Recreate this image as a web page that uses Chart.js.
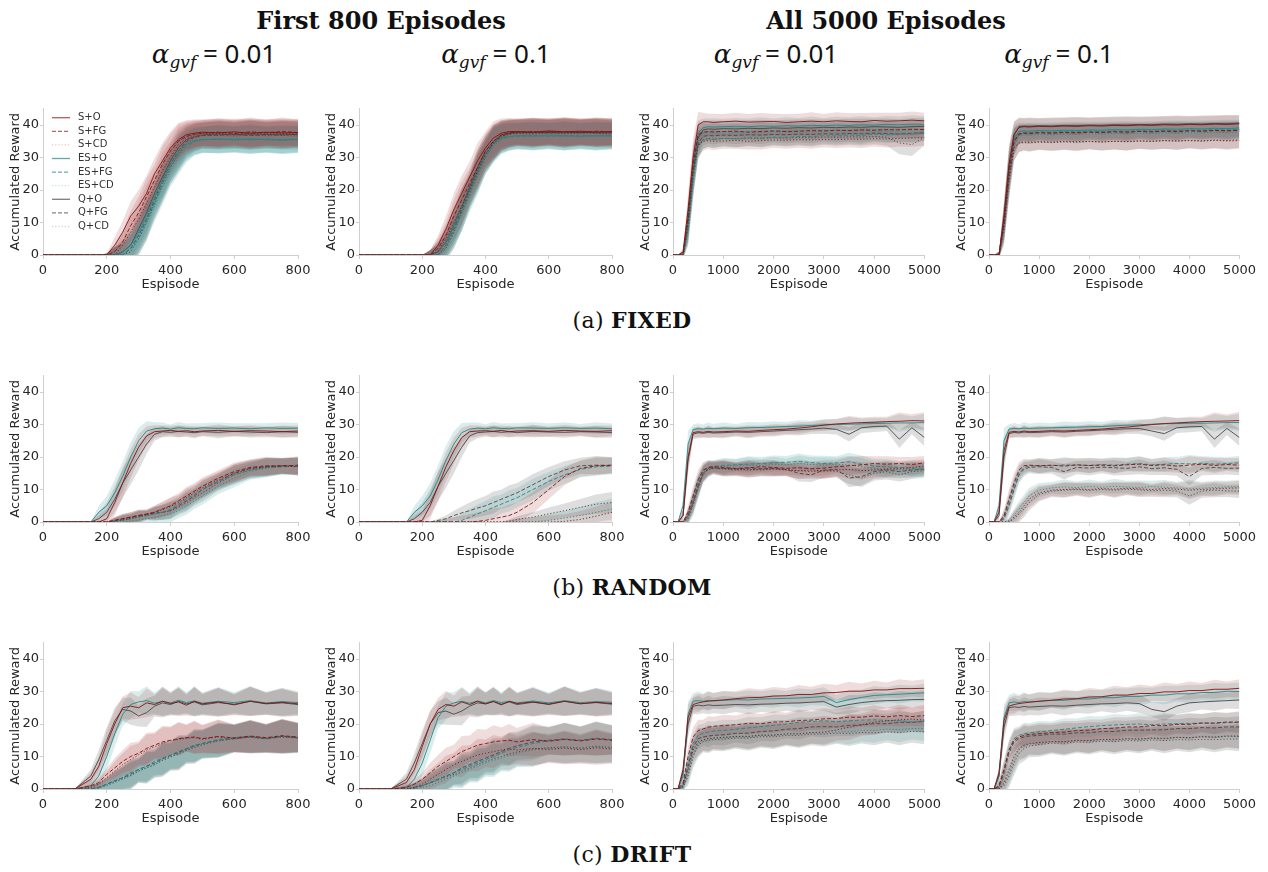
<!DOCTYPE html>
<html><head><meta charset="utf-8">
<script src="https://cdn.jsdelivr.net/npm/chart.js@4.4.0/dist/chart.umd.min.js"></script>
<style>
body{margin:0;width:1268px;height:872px;background:#fff;position:relative;overflow:hidden;font-family:"DejaVu Sans";}
.t{position:absolute;white-space:nowrap;transform:translateX(-50%);color:#111;line-height:1;}
.h{font-family:"DejaVu Serif";font-weight:bold;font-size:24px;}
.a{font-family:"Noto Sans";font-size:26px;}
.a i{font-family:"DejaVu Serif";font-style:italic;}
.a sub{font-family:"DejaVu Serif";font-style:italic;font-size:17px;vertical-align:-5px;line-height:0;}
.c{font-family:"DejaVu Serif";font-size:22px;letter-spacing:0.3px;}
.c b{font-weight:bold;}
canvas{position:absolute;}
</style></head><body>
<div class="t h" style="left:381px;top:9px">First 800 Episodes</div>
<div class="t h" style="left:886px;top:9px">All 5000 Episodes</div>
<div class="t a" style="left:214px;top:40px"><i>α</i><sub>gvf</sub> = 0.01</div>
<div class="t a" style="left:496px;top:40px"><i>α</i><sub>gvf</sub> = 0.1</div>
<div class="t a" style="left:776px;top:40px"><i>α</i><sub>gvf</sub> = 0.01</div>
<div class="t a" style="left:1059px;top:40px"><i>α</i><sub>gvf</sub> = 0.1</div>
<div class="t c" style="left:632px;top:309px">(a) <b>FIXED</b></div>
<div class="t c" style="left:632px;top:576px">(b) <b>RANDOM</b></div>
<div class="t c" style="left:632px;top:843px">(c) <b>DRIFT</b></div>
<script>
const SERIES = ['S+O','S+FG','S+CD','ES+O','ES+FG','ES+CD','Q+O','Q+FG','Q+CD'];
const X800  = [0,100,150,175,200,225,250,275,300,325,350,375,400,425,450,475,500,550,600,650,700,750,800];
const X5000 = [0,100,200,300,400,500,600,700,800,1000,1250,1500,1750,2000,2250,2500,2750,3000,3250,3500,3750,4000,4250,4500,4750,5000];
const Y_MAX = 45;

// ---- FIXED, first 800, alpha 0.01
const fixA8_SO  = [0,0,0,0,0, 3,7,12,15,19,25,29,33,35.5,37,37.5,37.8, 37.6,37.9,37.5,37.8,37.6,37.7];
const fixA8_SFG = [0,0,0,0,0, 1,4,9,13,18,23,28,32,35,36.5,37.2,37.5, 37.8,37.4,37.9,37.6,38,37.7];
const fixA8_SCD = [0,0,0,0,0, 0,3,7,11,16,21,26,30,34,36,37,37.5, 37.3,37.6,37.2,37.5,37.3,37.4];
const fixA8_ESO = [0,0,0,0,0, 0,1,3,7,12,18,23,28,32,34,35.2,35.5, 35.7,35.4,35.6,35.5,35.3,35.6];
const fixA8_ESFG= [0,0,0,0,0, 0,0,2,6,11,16,22,27,31,33.5,35,35.6, 35.5,35.8,35.4,35.7,35.5,35.5];
const fixA8_ESCD= [0,0,0,0,0, 0,0,2,5,10,15,21,26,30,33,34.8,35.3, 35.8,35.6,35.9,35.5,35.7,35.8];
const fixA8_QO  = [0,0,0,0,0, 0,1,3,8,13,19,24,29,33,35.5,36.5,37, 37.2,37,37.3,37.1,37.2,37];
const fixA8_QFG = [0,0,0,0,0, 0,0,2,6,11,17,23,28,32,35,36.3,36.8, 36.9,37.1,36.8,37,36.9,37.2];
const fixA8_QCD = [0,0,0,0,0, 0,0,1,5,10,16,22,27,31,34.5,36,36.7, 36.8,36.6,36.9,36.7,36.8,36.6];
const fixA8_sd  = [0,0,0,0,0.5, 2.5,3.5,4.5,5,5.5,4.8,5.5,5,5.2,4.5,4.2,4, 4.3,4,4.4,4,4.3,4.1];

// ---- FIXED, first 800, alpha 0.1
const fixB8_SO  = [0,0,0,0,0, 0,3,8,14,19,24,29,33,36,37.5,38,38, 37.8,38.2,37.9,38.1,37.8,38];
const fixB8_SFG = [0,0,0,0,0, 0,2,6,12,17,22,27,32,35,37,37.6,37.8, 38,37.7,38,37.8,38.1,37.9];
const fixB8_SCD = [0,0,0,0,0, 0,1,5,10,15,20,26,31,34.5,36.5,37.3,37.6, 37.5,37.8,37.5,37.7,37.6,37.4];
const fixB8_ESO = [0,0,0,0,0, 0,1,4,9,15,20,26,31,34.5,36,36.5,36.8, 36.6,36.9,36.7,36.5,36.8,36.6];
const fixB8_ESFG= [0,0,0,0,0, 0,0,3,8,13,19,25,30,34,35.8,36.4,36.5, 36.8,36.5,36.7,36.9,36.6,36.7];
const fixB8_ESCD= [0,0,0,0,0, 0,0,3,7,13,18,24,30,33.5,35.5,36.3,36.6, 36.4,36.7,36.5,36.6,36.4,36.8];
const fixB8_QO  = [0,0,0,0,0, 0,1,4,9,15,21,27,32,35,37,37.6,37.9, 37.7,38,37.8,37.6,37.9,37.8];
const fixB8_QFG = [0,0,0,0,0, 0,0,3,8,14,20,26,31,34.5,36.6,37.3,37.6, 37.8,37.5,37.7,37.9,37.6,37.7];
const fixB8_QCD = [0,0,0,0,0, 0,0,2,7,13,19,25,30,34,36.3,37.1,37.4, 37.2,37.6,37.3,37.5,37.4,37.2];
const fixB8_sd  = [0,0,0,0,0, 1.5,3,4,5,5.5,4.8,5.5,5,5.2,4.5,4.2,4, 4.3,4,4.4,4,4.3,4.1];

// ---- FIXED, all 5000, alpha 0.01
const fixA50_SO  = [0,0,1,14,30,40,41,41,40.8, 41,41.2,40.9,41,41.1,40.8,41,41.2,41,41.3,41.1,41,41.4,41.2,41.3,41.5,41.3];
const fixA50_SFG = [0,0,0,12,28,37,37.8,38,37.9, 38,38.1,37.8,38,38.2,38,38.1,38.3,38.2,38.4,38.3,38.5,38.4,38.6,38.5,38.7,38.6];
const fixA50_SCD = [0,0,0,10,26,34,35,35.2,35, 35.1,35.3,35,35.2,35.4,35.3,35.5,35.4,35.6,35.5,35.7,35.6,35.8,35.7,35.9,36,36.1];
const fixA50_ESO = [0,0,0,11,27,37.5,39.2,39.5,39.4, 39.5,39.6,39.5,39.7,39.6,39.8,39.7,39.9,39.8,40,39.9,40.1,40,40.2,40.1,40.3,40.2];
const fixA50_ESFG= [0,0,0,9,24,34,35.5,35.8,35.6, 35.9,35.8,36.1,36,36.3,36.2,36.5,36.4,36.7,36.6,36.9,36.8,37.2,37,37.3,37.2,37.5];
const fixA50_ESCD= [0,0,0,8,23,35,37.5,37.8,37.7, 37.9,37.8,38,37.9,38.1,38,38.2,38.1,38.3,38.2,38.4,38.3,38.5,38.4,38.6,38.5,38.7];
const fixA50_QO  = [0,0,0,10,26,36,38.5,38.8,38.7, 38.9,38.8,39,38.9,39.1,39,39.2,39.1,39.3,39.2,39.4,39.3,39.5,39.4,39.3,39.5,39.6];
const fixA50_QFG = [0,0,0,9,25,34.5,36.5,36.8,36.7, 36.9,36.8,37,36.9,37.1,37,37.2,37.1,37.3,37.2,37.4,37.3,37.5,37.4,37.2,37.5,37.6];
const fixA50_QCD = [0,0,0,8,24,33.5,35.5,35.8,35.7, 35.9,35.8,36,35.9,36.1,36,36.2,36.1,36.3,36.2,36.4,36.3,36.5,36.2,34.5,34,36.2];
const fixA50_sd  = [0,0,1,5,6,4,2.8,2.5,2.7, 2.4,2.6,2.5,2.7,2.4,2.6,2.5,2.7,2.4,2.6,2.5,2.7,2.4,2.6,2.5,2.7,2.5];
const fixA50_sdQCD=[0,0,1,5,6,4,2.8,2.5,2.7, 2.4,2.6,2.5,2.7,2.4,2.6,2.5,2.7,2.4,2.6,2.5,2.7,2.4,2.6,3.5,3.5,2.5];

// ---- FIXED, all 5000, alpha 0.1
const fixB50_SO  = [0,0,0,12,28,37,39.3,39.5,39.4, 39.6,39.5,39.7,39.6,39.8,39.7,39.9,39.8,40,39.9,40.1,40,40.2,40.1,40.3,40.2,40.4];
const fixB50_SFG = [0,0,0,10,26,35,37.2,37.5,37.4, 37.6,37.5,37.7,37.6,37.8,37.7,37.9,37.8,38,37.9,38.1,38,38.2,38.1,38.3,38.2,38.4];
const fixB50_SCD = [0,0,0,9,24,33,34.6,34.8,34.7, 34.9,34.8,35,34.9,35,34.8,35,34.9,35.1,35,35.2,35.1,35.2,35,35.3,35.1,35.2];
const fixB50_ESO = [0,0,0,11,27,36,38,38.2,38.1, 38.3,38.2,38.4,38.3,38.5,38.4,38.6,38.5,38.7,38.6,38.8,38.7,38.9,38.8,39,38.9,39.1];
const fixB50_ESFG= [0,0,0,10,25,35,37.6,37.8,37.7, 37.9,37.8,38,37.9,38.1,38,38.2,38.1,38.3,38.2,38.4,38.3,38.5,38.4,38.6,38.5,38.7];
const fixB50_ESCD= [0,0,0,9,24,34,36.8,37,36.9, 37.1,37,37.2,37.1,37.3,37.2,37.4,37.3,37.5,37.4,37.6,37.5,37.7,37.6,37.8,37.7,37.9];
const fixB50_QO  = [0,0,0,11,27,37,39.5,39.7,39.6, 39.8,39.7,39.9,39.8,40,39.9,40.1,40,40.2,40.1,40.3,40.2,40.4,40.3,40.5,40.4,40.6];
const fixB50_QFG = [0,0,0,10,25,35,37.3,37.6,37.5, 37.7,37.6,37.8,37.7,37.9,37.8,38,37.9,38.1,38,38.2,38.1,38.3,38.2,38.4,38.3,38.5];
const fixB50_QCD = [0,0,0,8,23,33,34.4,34.6,34.5, 34.7,34.6,34.8,34.7,34.9,34.8,35,34.9,35.1,35,35.2,35.1,35.3,35.2,35.4,35.3,35.5];
const fixB50_sd  = [0,0,1,5,6,4,2.8,2.5,2.7, 2.4,2.6,2.5,2.7,2.4,2.6,2.5,2.7,2.4,2.6,2.5,2.7,2.4,2.6,2.5,2.7,2.5];

// ---- RANDOM, first 800, alpha 0.01
const rndA8_SO  = [0,0,0,0,1, 6,12,18,23,26.5,27.8,28,28.2,27.9,28.1,27.8,28, 28.2,27.9,28.1,28,27.8,28];
const rndA8_ESO = [0,0,0,3,5, 9,14,20,25,28,28.7,28.9,28.6,29,28.8,28.7,29, 28.8,28.9,28.7,29,28.8,28.9];
const rndA8_QO  = [0,0,0,1,3, 7,12,16,20,24,27,27.8,27.6,27.9,27.7,27.5,27.8, 27.6,27.9,27.7,27.5,27.8,27.6];
const rndA8_SFG = [0,0,0,0,0, 0.5,1,1.5,2,2.5,3,4,5,6.5,8,9.5,11, 13.5,15.5,16.8,17.3,17.2,17.5];
const rndA8_SCD = [0,0,0,0,0, 0.3,0.8,1.2,1.8,2.3,3,3.8,4.8,6,7.5,9,10.5, 13,15,16.5,17,17.3,17];
const rndA8_ESFG= [0,0,0,0,0, 0.2,0.5,1,1.5,2,2.5,3,4,5.5,7,8.5,10, 12.5,14.5,16,16.8,17,17.2];
const rndA8_ESCD= [0,0,0,0,0, 0,0,0.3,0.6,1,1.5,2,2.5,3.5,5,6.5,8, 11,13.5,15.5,16.5,17,17.3];
const rndA8_QFG = [0,0,0,0,0, 0.5,1,1.5,2,2.3,2.7,3,3.5,5,6.5,8,10, 12.5,15,16.5,17,17.4,17.2];
const rndA8_QCD = [0,0,0,0,0, 0.2,0.6,1,1.5,2,2.5,3,3.5,4.5,6,7.5,9, 12,14.5,16,16.8,17.2,17];
const rndA8_sdFast = [0,0,0,2,3, 4,4.5,4.5,4,3,2,1.7,1.4,1.8,1.5,1.7,1.4, 1.8,1.5,1.7,1.4,1.8,1.6];
const rndA8_sdSlow = [0,0,0,0,0, 1,1.5,1.5,1.8,1.4,2,2.3,2.6,2.3,2.8,2.4,2.7, 2.4,2.8,2.5,2.8,2.4,2.7];

// ---- RANDOM, first 800, alpha 0.1
const rndB8_SO  = [0,0,0,0,0.5, 5,11,17,22,26,27.8,28,28.1,27.9,28.2,27.8,28, 28.1,27.9,28.2,28,27.9,28.1];
const rndB8_ESO = [0,0,0,3,5, 8,13,19,24,27.5,28.6,28.9,28.7,29,28.8,28.7,29, 28.9,28.8,29,28.8,28.9,28.7];
const rndB8_QO  = [0,0,0,1,3, 6,11,15,19,23,26.5,27.5,27.7,27.9,27.6,27.8,27.5, 27.9,27.7,27.6,27.8,27.7,27.5];
const rndB8_SFG = [0,0,0,0,0, 0,0,0,0,0,0,0.2,0.5,1,1.5,2,3, 6,10,14,16.5,17.3,17.5];
const rndB8_ESFG= [0,0,0,0,0, 0,0,0,0,0.5,1.5,2.5,3.5,4.5,5.5,6.5,7.5, 10,12.5,14.5,16.2,17,17.2];
const rndB8_QFG = [0,0,0,0,0, 0,0.5,1,2,2.8,3.5,4.3,5,6,7,8,9, 11.5,14,16,17.3,17.5,17.4];
const rndB8_SCD = [0,0,0,0,0, 0,0,0,0,0,0,0,0,0,0,0,0, 0,0,0.2,0.8,1.8,3];
const rndB8_ESCD= [0,0,0,0,0, 0,0,0,0,0,0,0,0,0,0,0,0, 0,0.5,1.2,2,3,4];
const rndB8_QCD = [0,0,0,0,0, 0,0,0,0,0,0,0,0,0,0,0.3,0.8, 1.5,2.5,3.5,4.5,5.5,6];
const rndB8_sdFast = [0,0,0,2,3, 4,4.5,4.5,4,3,2,1.7,1.4,1.8,1.5,1.7,1.4, 1.8,1.5,1.7,1.4,1.8,1.6];
const rndB8_sdMid  = [0,0,0,0,0, 0,0.5,1,1.5,2,2.5,2.8,3,3.4,2.9,3.3,3, 3.3,2.9,2.7,2.5,2.8,2.5];
const rndB8_sdSlow = [0,0,0,0,0, 0,0,0,0,0,0,0,0,0,0,0.5,1, 1.5,2,2.2,2.6,3,3.2];

// ---- RANDOM, all 5000, alpha 0.01
const rndA50_SO  = [0,0,2,20,27.5,27.8,27.6,27.9,27.7, 27.8,28,27.9,28.2,28.4,28.6,28.9,29.3,29.8,30.2,30.4,30.6,30.7,30.9,31,31.2,31.1];
const rndA50_ESO = [0,0,5,24,28.5,28.7,28.6,28.8,28.7, 28.9,28.8,29,29.1,29.2,29.4,29.5,29.7,29.9,30,30.1,30.2,30.3,30.4,30.5,30.5,30.6];
const rndA50_QO  = [0,0,2,19,27,27.5,27.3,27.6,27.4, 27.5,27.7,27.6,27.8,28,28.2,28.4,28.6,28.9,28.5,27,29,29.4,29.5,25.5,29,26];
const rndA50_SFG = [0,0,0,3,8,13,16,16.8,17, 16.8,16.5,16.7,17,16.8,16.5,16.7,16.4,16.6,17,17.3,17.6,18,17.8,18,17.7,18.2];
const rndA50_SCD = [0,0,0,2,6,11,15,16.5,16.8, 16.5,16.3,16,16.2,16.4,16.1,15.8,16,15.7,16,16.2,15.8,16,16.3,16.5,16.8,17.2];
const rndA50_ESFG= [0,0,0,2,7,12,15.5,16.8,17.2, 17.4,17.6,17.8,18,18.2,18.4,18.6,18.3,18,18.2,18.5,17.8,17.2,17,16.8,16.5,16.7];
const rndA50_ESCD= [0,0,0,1.5,6,11,15,16.5,17, 17.1,17.3,17.5,17.4,17.8,17.6,18,17.7,17.5,17.8,17.6,17,16.5,16.3,16,16.2,16];
const rndA50_QFG = [0,0,0,2,6,11,15,16.3,16.6, 16.5,16.3,16.6,16.4,16.5,16.2,15,14.5,16,16.2,13.5,14,15.5,16,15.5,16,16.3];
const rndA50_QCD = [0,0,0,1,5,10,14.5,16,16.4, 16.3,16,16.2,16,16.3,16,15.8,15.5,15.8,15.6,14.5,13.5,15,15.5,14.5,15.5,15.8];
const rndA50_sdFast = [0,0,2,4,1.5,1.7,1.4,1.8,1.5, 1.7,1.4,1.8,1.5,1.7,1.4,1.8,1.5,1.7,1.6,2.2,1.6,1.7,1.5,2.7,2,2.7];
const rndA50_sdSlow = [0,0,0,2,3,3,2.5,2.2,1.8, 2.3,1.9,2.4,2,2.3,1.9,2.5,2.2,2.4,2,2.8,2.7,2.2,2.4,2,2.3,2.1];

// ---- RANDOM, all 5000, alpha 0.1
const rndB50_SO  = [0,0,3,22,27.6,27.9,27.7,28,27.8, 27.9,28.1,28,28.2,28.4,28.6,28.9,29.2,29.6,30,30.3,30.5,30.7,30.9,31,31.1,31.2];
const rndB50_ESO = [0,0,5,25,28.6,28.8,28.7,28.9,28.8, 28.9,29,29.1,29.2,29.3,29.4,29.6,29.8,29.9,30.1,30.2,30.3,30.4,30.4,30.5,30.6,30.6];
const rndB50_QO  = [0,0,2,20,27.2,27.6,27.4,27.7,27.5, 27.6,27.8,27.7,27.9,28.1,28.3,28.5,28.7,28.8,28,27.2,29,29.3,29.4,25.5,28.8,26];
const rndB50_SFG = [0,0,0,2,7,12,16,17.3,17.5, 17.3,17.5,17.2,17.6,17.4,17.5,17.3,17.6,17.8,17.4,17.6,17.2,17.5,17.8,17.4,17.7,17.5];
const rndB50_ESFG= [0,0,0,1.5,6,11,15,16.8,17.2, 17.4,17.3,17.6,17.5,17.4,17.7,17.5,17.8,18,17.6,17.8,18,17.9,18.1,17.8,18,18.2];
const rndB50_QFG = [0,0,0,1,5,10,14.5,16.3,16.8, 17,16.8,15.5,16.8,16.6,16.9,16.7,16.5,17,16.4,16.7,16.2,14,16.5,16.8,16.5,16.6];
const rndB50_SCD = [0,0,0,0,0,1.5,3,5,7, 9,9.8,10,10.2,10,10.3,10.1,10.4,10.2,10,10.3,10.1,9.8,10,10.2,10.4,10.5];
const rndB50_ESCD= [0,0,0,0,0.5,2,4,6,8, 9.8,10.5,10.8,10.6,10.9,10.7,11,10.8,10.6,10.9,10.7,10.5,10.2,10.4,10.6,10.8,10.9];
const rndB50_QCD = [0,0,0,0,0,1,2.5,4,6, 8.5,9.5,9.8,10,9.7,10,9.8,10.1,9.9,9.6,9.8,9.5,8,9.5,9.8,9.6,9.5];
const rndB50_sdFast = [0,0,2,4,1.5,1.7,1.4,1.8,1.5, 1.7,1.4,1.8,1.5,1.7,1.4,1.8,1.5,1.7,1.6,2.2,1.6,1.7,1.5,2.7,2,2.7];
const rndB50_sdMid  = [0,0,0,2,3,3,2.5,2.2,1.8, 2.3,1.9,2.4,2,2.3,1.9,2.4,2,2.3,1.9,2.2,2,2.7,2.1,2.3,1.9,2.2];
const rndB50_sdSlow = [0,0,0,0,1,2,2.5,2.5,2.5, 2.2,1.8,2.3,1.9,2.2,1.8,2.3,1.9,2.2,1.8,2.2,1.9,2.7,2,2.2,1.9,2.1];

// ---- DRIFT, first 800, alpha 0.01
const drfA8_SO  = [0,0,3,7,14, 20,25,25.5,25,26.5,26,27,26.3,26.8,25.8,27,26.2, 26.8,25.9,27,26.3,26.7,26.2];
const drfA8_ESO = [0,0,1,4,10, 17,23,26,26.8,27.2,26.4,27,26.5,27.3,26.6,27.1,26.4, 27,26.6,27.2,26.5,26.9,26.6];
const drfA8_QO  = [0,0,4,9,15, 21,24.5,24,22.5,23.5,25.5,26.5,26,27,26.2,26.8,25.9, 26.6,26.1,27,26.2,26.5,26];
const drfA8_SFG = [0,0,1,2,4.5, 6.5,8.5,10,11,12.5,13.5,14.5,15,15.5,15.8,16,15.5, 16.2,15.7,16.3,15.8,16.4,16];
const drfA8_SCD = [0,0,0.5,1.5,3.5, 5.5,7.5,9,10.5,12,13,14,14.8,15.3,15.6,15.8,15.3, 16,15.5,16.1,15.6,16.2,15.8];
const drfA8_ESFG= [0,0,0,0.5,1.5, 2.5,3.5,5,6,7,8.5,9.5,10.5,11.5,12.5,13.5,14, 15.3,15.8,16.2,15.6,16.3,15.9];
const drfA8_ESCD= [0,0,0,0.3,1, 2,3,4,5.5,6.5,7.5,9,10,11,12,13,13.7, 15,15.6,16,15.5,16.2,15.7];
const drfA8_QFG = [0,0,0,0.5,1.5, 2.5,3.5,4.5,6,7,8,9.3,10.3,11.3,12.3,13.3,14, 15,15.6,16.1,15.5,16.2,15.8];
const drfA8_QCD = [0,0,0,0.3,1.2, 2.2,3.2,4.2,5.5,6.5,7.5,8.8,9.8,10.8,11.8,12.8,13.6, 14.8,15.4,15.9,15.4,16,15.6];
const drfA8_sdFast = [0,0,2,3,4, 4,3.5,4.2,3.3,4.4,3.2,4.5,3.4,4.3,3.2,4.5,3.3, 4.4,3.2,4.5,3.4,4.3,3.5];
const drfA8_sdSlow = [0,0,1,1.5,2, 3,3.5,4.2,3.6,4.8,4,5,4.2,5.1,4.1,5,4.3, 5.2,4.2,5,4.3,5.2,4.5];

// ---- DRIFT, first 800, alpha 0.1
const drfB8_SO  = [0,0,2,6,13, 20,24.5,26,25.5,26.8,26,27,26.2,26.9,25.9,27,26.3, 26.8,26,27,26.2,26.7,26.3];
const drfB8_ESO = [0,0,0.5,3,8, 15,22,25.5,26.5,27,26.4,27.1,26.5,27.2,26.6,27,26.5, 27.1,26.5,27.2,26.6,26.9,26.7];
const drfB8_QO  = [0,0,3,8,14, 20,23.5,24,23,24,25.5,26.5,26.2,27,26.1,26.8,26, 26.7,26.2,27,26.3,26.6,26.1];
const drfB8_SFG = [0,0,0.5,1.5,3, 5,7,8.5,10,11.5,12.5,13.5,14,14.5,14.8,15,14.5, 15.2,14.7,15.3,14.8,15.4,15];
const drfB8_ESFG= [0,0,0,0.3,1, 2,3,4,5,6,7,8,9,10,11,12,12.8, 14,14.8,15.3,14.9,15.5,15.1];
const drfB8_QFG = [0,0,0,0.5,1, 2,3,4,5,6.5,7.5,8.5,9.5,10.5,11.5,12.5,13.3, 14.5,15,15.4,15,15.6,15.2];
const drfB8_SCD = [0,0,0,0.5,1.5, 3,4.5,6,7.5,8.5,9.5,10.5,11,11.5,12,12.3,12, 12.5,12.2,12.6,12.1,12.7,12.3];
const drfB8_ESCD= [0,0,0,0,0.5, 1,2,3,4,5,6,7,8,8.8,9.5,10.3,11, 12,12.5,12.8,12.4,13,12.6];
const drfB8_QCD = [0,0,0,0.3,1, 1.8,2.7,3.6,4.5,5.5,6.5,7.5,8.5,9.3,10,10.8,11.4, 12.3,12.7,13,12.6,13.2,12.8];
const drfB8_sdFast = [0,0,2,3,4, 4,3.5,4.2,3.3,4.4,3.2,4.5,3.4,4.3,3.2,4.5,3.3, 4.4,3.2,4.5,3.4,4.3,3.5];
const drfB8_sdSlow = [0,0,1,1.5,2, 3,3.5,4.2,3.6,4.8,4,5,4.2,5.1,4.1,5,4.3, 5.2,4.2,5,4.3,5.2,4.5];

// ---- DRIFT, all 5000, alpha 0.01
const drfA50_SO  = [0,0,6,22,26,26.5,26.8,27,27.2, 27.4,27.8,28.1,28.2,28.6,28.7,29.1,29.1,29.6,29.7,30.1,30.1,30.5,30.5,30.9,30.9,31];
const drfA50_ESO = [0,0,4,23,27,27.2,27,27.3,27.1, 27.3,27.5,27.4,27.7,27.8,27.9,28,28.2,28.5,26.6,27.5,28.2,28.8,29,29.2,29.4,29.6];
const drfA50_QO  = [0,0,5,20,25.5,25.8,25.6,25.9,25.7, 25.8,26,25.9,26.1,26.2,26.4,26.5,26.7,26.9,25.2,26,26.6,27,27.2,27.3,27.5,27.6];
const drfA50_SFG = [0,0,2,10,16,18,18.5,19,19.3, 19.5,19.8,20.2,20.1,20.6,20.7,21.1,21.2,21.6,21.7,22.1,22.1,22.5,22.2,22.6,22.3,22.6];
const drfA50_ESFG= [0,0,1,8,14,16.5,17.2,17.5,17.8, 18,18.4,18.8,19.2,19.6,20,20.5,20.8,21,20.7,21,21.2,21.3,21.1,21,20.6,20.8];
const drfA50_QFG = [0,0,1,7,13,15.5,16,16.3,16.5, 16.7,17.1,17.2,17.7,17.9,18.4,18.6,19.1,19.2,19.1,19.6,19.7,20.1,20.1,20.5,20.5,20.8];
const drfA50_SCD = [0,0,1,6,12,14.5,15.2,15.5,15.7, 15.9,16.2,16.2,16.6,16.6,17,17,17.4,17.5,18.2,19,19.8,20.5,21,21.3,21.5,21.2];
const drfA50_ESCD= [0,0,0.5,5,11,14,15,15.4,15.6, 15.8,16.1,16.1,16.5,16.5,16.9,16.9,17.3,17.3,17.6,17.6,18,18,18.4,18.3,18.6,18.6];
const drfA50_QCD = [0,0,0.5,4,10,13.5,14.6,15,15.2, 15.4,15.7,15.7,16.1,16.1,16.5,16.5,16.9,16.9,17.2,17.1,17.4,17.3,17.6,17.4,17.7,17.6];
const drfA50_sdFast = [0,0,2,4,2.5,2.8,2.3,2.9,2.4, 2.8,2.3,2.9,2.4,2.8,2.3,2.9,2.4,2.8,2.3,2.9,2.4,2.8,2.3,2.9,2.4,2.8];
const drfA50_sdMid  = [0,0,1.5,3,3,3.3,2.8,3.4,2.9, 3.3,2.8,3.4,2.9,3.3,2.8,3.4,2.9,3.3,2.8,3.4,2.9,3.3,2.8,3.4,2.9,3.3];
const drfA50_sdSlow = [0,0,1,3,3.5,3.8,3.3,3.9,3.4, 3.8,3.3,3.9,3.4,3.8,3.3,3.9,3.4,3.8,3.3,3.9,3.4,3.8,3.3,3.9,3.4,3.8];

// ---- DRIFT, all 5000, alpha 0.1
const drfB50_SO  = [0,0,5,21,25.5,26,26.3,26.5,26.7, 27,27.3,27.7,27.8,28.3,28.4,28.9,28.9,29.4,29.4,29.9,29.9,30.3,30.3,30.7,30.7,31];
const drfB50_ESO = [0,0,4,22,26.5,26.8,26.6,26.9,26.8, 27,27.3,27.3,27.7,27.7,28.1,28.1,28.5,28.5,28.9,28.9,29.3,29.3,29.7,29.7,30.1,30];
const drfB50_QO  = [0,0,4,19,25,25.3,25.1,25.4,25.2, 25.4,25.6,25.5,25.8,26,26.2,26.3,26.5,26.3,24.5,23.8,25.5,26.5,26.8,27,27.2,27.4];
const drfB50_SFG = [0,0,1,6,12,15,16,16.5,16.8, 17,17.4,17.5,18,18.1,18.6,18.7,19.1,19.1,19.5,19.5,19.9,19.9,20.3,20.3,20.6,20.6];
const drfB50_ESFG= [0,0,1,6,12,15.5,16.5,17,17.3, 17.6,18,18.4,18.8,19.2,19.5,19.7,19.9,20,19.8,20,20.1,20.2,20.3,20.2,20.4,20.5];
const drfB50_QFG = [0,0,0.5,5,11,14.5,15.5,16,16.3, 16.5,16.9,16.9,17.3,17.3,17.7,17.7,18.1,18.1,18.2,18.2,18.6,18.6,18.9,18.8,19.1,19.1];
const drfB50_SCD = [0,0,0,2,6,10,12.5,13.5,14, 14.3,14.6,14.6,15,14.9,15.3,15.2,15.5,15.4,15.7,15.6,15.9,15.8,16.1,16,16.3,16.3];
const drfB50_ESCD= [0,0,0,1.5,5,9,12,13.2,13.8, 14.2,14.5,14.5,14.9,14.9,15.2,15.1,15.4,15.3,15.6,15.5,15.8,15.7,16,15.9,16.1,16.1];
const drfB50_QCD = [0,0,0,1,4,8,11,12.5,13.2, 13.7,14.1,14.1,14.5,14.4,14.7,14.6,14.9,14.8,15.1,14.9,15.2,15.1,15.3,15.2,15.4,15.4];
const drfB50_sdFast = [0,0,2,4,2.5,2.8,2.3,2.9,2.4, 2.8,2.3,2.9,2.4,2.8,2.3,2.9,2.4,2.8,2.3,2.9,2.4,2.8,2.3,2.9,2.4,2.8];
const drfB50_sdMid  = [0,0,1.5,3,3,3.3,2.8,3.4,2.9, 3.3,2.8,3.4,2.9,3.3,2.8,3.4,2.9,3.3,2.8,3.4,2.9,3.3,2.8,3.4,2.9,3.3];
const drfB50_sdSlow = [0,0,1,3,3.5,3.8,3.3,3.9,3.4, 3.8,3.3,3.9,3.4,3.8,3.3,3.9,3.4,3.8,3.3,3.9,3.4,3.8,3.3,3.9,3.4,3.8];

// panel table (order: S+O,S+FG,S+CD,ES+O,ES+FG,ES+CD,Q+O,Q+FG,Q+CD)
const PANELS = [
  {x:X800, max:800, step:200, m:[fixA8_SO,fixA8_SFG,fixA8_SCD,fixA8_ESO,fixA8_ESFG,fixA8_ESCD,fixA8_QO,fixA8_QFG,fixA8_QCD], sd:[fixA8_sd,fixA8_sd,fixA8_sd,fixA8_sd,fixA8_sd,fixA8_sd,fixA8_sd,fixA8_sd,fixA8_sd], legend:true},
  {x:X800, max:800, step:200, m:[fixB8_SO,fixB8_SFG,fixB8_SCD,fixB8_ESO,fixB8_ESFG,fixB8_ESCD,fixB8_QO,fixB8_QFG,fixB8_QCD], sd:[fixB8_sd,fixB8_sd,fixB8_sd,fixB8_sd,fixB8_sd,fixB8_sd,fixB8_sd,fixB8_sd,fixB8_sd]},
  {x:X5000, max:5000, step:1000, m:[fixA50_SO,fixA50_SFG,fixA50_SCD,fixA50_ESO,fixA50_ESFG,fixA50_ESCD,fixA50_QO,fixA50_QFG,fixA50_QCD], sd:[fixA50_sd,fixA50_sd,fixA50_sd,fixA50_sd,fixA50_sd,fixA50_sd,fixA50_sd,fixA50_sd,fixA50_sdQCD]},
  {x:X5000, max:5000, step:1000, m:[fixB50_SO,fixB50_SFG,fixB50_SCD,fixB50_ESO,fixB50_ESFG,fixB50_ESCD,fixB50_QO,fixB50_QFG,fixB50_QCD], sd:[fixB50_sd,fixB50_sd,fixB50_sd,fixB50_sd,fixB50_sd,fixB50_sd,fixB50_sd,fixB50_sd,fixB50_sd]},
  {x:X800, max:800, step:200, m:[rndA8_SO,rndA8_SFG,rndA8_SCD,rndA8_ESO,rndA8_ESFG,rndA8_ESCD,rndA8_QO,rndA8_QFG,rndA8_QCD], sd:[rndA8_sdFast,rndA8_sdSlow,rndA8_sdSlow,rndA8_sdFast,rndA8_sdSlow,rndA8_sdSlow,rndA8_sdFast,rndA8_sdSlow,rndA8_sdSlow]},
  {x:X800, max:800, step:200, m:[rndB8_SO,rndB8_SFG,rndB8_SCD,rndB8_ESO,rndB8_ESFG,rndB8_ESCD,rndB8_QO,rndB8_QFG,rndB8_QCD], sd:[rndB8_sdFast,rndB8_sdMid,rndB8_sdSlow,rndB8_sdFast,rndB8_sdMid,rndB8_sdSlow,rndB8_sdFast,rndB8_sdMid,rndB8_sdSlow]},
  {x:X5000, max:5000, step:1000, m:[rndA50_SO,rndA50_SFG,rndA50_SCD,rndA50_ESO,rndA50_ESFG,rndA50_ESCD,rndA50_QO,rndA50_QFG,rndA50_QCD], sd:[rndA50_sdFast,rndA50_sdSlow,rndA50_sdSlow,rndA50_sdFast,rndA50_sdSlow,rndA50_sdSlow,rndA50_sdFast,rndA50_sdSlow,rndA50_sdSlow]},
  {x:X5000, max:5000, step:1000, m:[rndB50_SO,rndB50_SFG,rndB50_SCD,rndB50_ESO,rndB50_ESFG,rndB50_ESCD,rndB50_QO,rndB50_QFG,rndB50_QCD], sd:[rndB50_sdFast,rndB50_sdMid,rndB50_sdSlow,rndB50_sdFast,rndB50_sdMid,rndB50_sdSlow,rndB50_sdFast,rndB50_sdMid,rndB50_sdSlow]},
  {x:X800, max:800, step:200, m:[drfA8_SO,drfA8_SFG,drfA8_SCD,drfA8_ESO,drfA8_ESFG,drfA8_ESCD,drfA8_QO,drfA8_QFG,drfA8_QCD], sd:[drfA8_sdFast,drfA8_sdSlow,drfA8_sdSlow,drfA8_sdFast,drfA8_sdSlow,drfA8_sdSlow,drfA8_sdFast,drfA8_sdSlow,drfA8_sdSlow]},
  {x:X800, max:800, step:200, m:[drfB8_SO,drfB8_SFG,drfB8_SCD,drfB8_ESO,drfB8_ESFG,drfB8_ESCD,drfB8_QO,drfB8_QFG,drfB8_QCD], sd:[drfB8_sdFast,drfB8_sdSlow,drfB8_sdSlow,drfB8_sdFast,drfB8_sdSlow,drfB8_sdSlow,drfB8_sdFast,drfB8_sdSlow,drfB8_sdSlow]},
  {x:X5000, max:5000, step:1000, m:[drfA50_SO,drfA50_SFG,drfA50_SCD,drfA50_ESO,drfA50_ESFG,drfA50_ESCD,drfA50_QO,drfA50_QFG,drfA50_QCD], sd:[drfA50_sdFast,drfA50_sdMid,drfA50_sdSlow,drfA50_sdFast,drfA50_sdMid,drfA50_sdSlow,drfA50_sdFast,drfA50_sdMid,drfA50_sdSlow]},
  {x:X5000, max:5000, step:1000, m:[drfB50_SO,drfB50_SFG,drfB50_SCD,drfB50_ESO,drfB50_ESFG,drfB50_ESCD,drfB50_QO,drfB50_QFG,drfB50_QCD], sd:[drfB50_sdFast,drfB50_sdMid,drfB50_sdSlow,drfB50_sdFast,drfB50_sdMid,drfB50_sdSlow,drfB50_sdFast,drfB50_sdMid,drfB50_sdSlow]}
];

// styles
const LINE = ['rgba(135,18,18,0.9)','rgba(30,138,138,0.9)','rgba(72,72,72,0.9)'];
const BAND = ['rgba(165,60,60,0.18)','rgba(55,148,148,0.18)','rgba(90,90,90,0.2)'];
const LEG  = [['rgba(150,40,40,0.75)','rgba(150,40,40,0.7)','rgba(200,120,120,0.45)'],
              ['rgba(40,140,140,0.75)','rgba(40,140,140,0.7)','rgba(120,190,190,0.45)'],
              ['rgba(80,80,80,0.75)','rgba(80,80,80,0.7)','rgba(160,160,160,0.45)']];
const DASH = [[],[4,2],[1.2,2]];

const COLS = [{left:0,w:255},{left:316,w:253},{left:630,w:252},{left:946,w:251}];
const ROWS = [100,367,634];
const AXW = 43, PADR = 20, PADT = 5, XAH = 40, PH = 150;

const legendPlugin = {
  id:'seriesLegend',
  afterDraw(chart){
    const ctx = chart.ctx; ctx.save();
    SERIES.forEach((s,i)=>{
      const y = 17.7 + 13.6*i, meth = Math.floor(i/3), v = i%3;
      ctx.strokeStyle = LEG[meth][v]; ctx.lineWidth = 1.3; ctx.setLineDash(DASH[v]);
      ctx.beginPath(); ctx.moveTo(52,y); ctx.lineTo(70,y); ctx.stroke();
      ctx.setLineDash([]);
      ctx.fillStyle = '#333'; ctx.font = '10px "DejaVu Sans"'; ctx.textBaseline = 'middle'; ctx.textAlign='left';
      ctx.fillText(s, 78, y);
    });
    ctx.restore();
  }
};

PANELS.forEach((p,k)=>{
  const r = Math.floor(k/4), c = k%4;
  const W = AXW + COLS[c].w + PADR, H = PADT + PH + XAH;
  const cv = document.createElement('canvas');
  cv.width = W; cv.height = H;
  cv.style.left = COLS[c].left+'px'; cv.style.top = ROWS[r]+'px';
  cv.style.width = W+'px'; cv.style.height = H+'px';
  document.body.appendChild(cv);
  const ds = [];
  p.m.forEach((m,i)=>{
    const meth = Math.floor(i/3), sd = p.sd[i];
    ds.push({data:m.map((v,j)=>({x:p.x[j],y:v+sd[j]})), borderWidth:0, borderColor:'transparent', pointRadius:0, fill:false, order:2, tension:0});
    ds.push({data:m.map((v,j)=>({x:p.x[j],y:v-sd[j]})), borderWidth:0, borderColor:'transparent', pointRadius:0, fill:'-1', backgroundColor:BAND[meth], order:2, tension:0});
  });
  p.m.forEach((m,i)=>{
    const meth = Math.floor(i/3), v = i%3;
    ds.push({label:SERIES[i], data:m.map((val,j)=>({x:p.x[j],y:val})), borderColor:LINE[meth], borderWidth:1, borderDash:DASH[v], pointRadius:0, fill:false, order:1, tension:0});
  });
  const tickFont = {family:'DejaVu Sans', size:13};
  new Chart(cv, {
    type:'line',
    data:{datasets:ds},
    options:{
      responsive:false, animation:false, events:[],
      layout:{padding:{top:PADT,right:PADR,left:0,bottom:0}, autoPadding:false},
      plugins:{legend:{display:false}, tooltip:{enabled:false}},
      scales:{
        x:{type:'linear', min:0, max:p.max,
           ticks:{stepSize:p.step, includeBounds:false, font:tickFont, color:'#262626', padding:4, maxRotation:0, autoSkip:false, callback:(v)=>String(v)},
           grid:{display:true, drawOnChartArea:false, drawTicks:true, tickLength:4, color:'#cfcfcf'},
           border:{color:'#cfcfcf', width:1},
           title:{display:true, text:'Espisode', font:tickFont, color:'#262626', padding:{top:0,bottom:3}},
           afterFit(s){ s.height = XAH; }},
        y:{type:'linear', min:0, max:Y_MAX,
           ticks:{stepSize:10, includeBounds:false, font:tickFont, color:'#262626', padding:1, callback:(v)=>String(v)},
           grid:{display:true, drawOnChartArea:false, drawTicks:true, tickLength:3, color:'#cfcfcf'},
           border:{color:'#cfcfcf', width:1},
           title:{display:true, text:'Accumulated Reward', font:tickFont, color:'#262626', padding:{top:8,bottom:0}},
           afterFit(s){ s.width = AXW; }}
      }
    },
    plugins: p.legend ? [legendPlugin] : []
  });
});
</script>
</body></html>
